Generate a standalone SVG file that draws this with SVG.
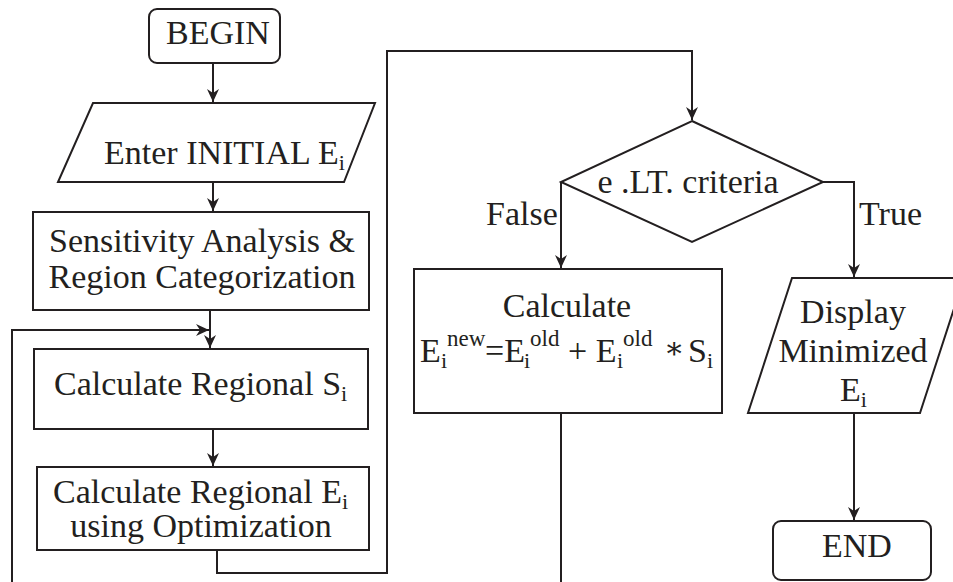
<svg xmlns="http://www.w3.org/2000/svg" width="953" height="582" viewBox="0 0 953 582">
<defs>
<style>
.s{fill:#fff;stroke:#231f20;stroke-width:2}
.c{fill:none;stroke:#231f20;stroke-width:2}
text{font-family:"Liberation Serif","Times New Roman",serif;font-size:34px;fill:#231f20}
.m{text-anchor:middle}
.sb{font-size:22px}
.sp{font-size:23px}
</style>
<marker id="ah" viewBox="-14 -7 15 14" refX="0" refY="0" markerWidth="15" markerHeight="14" markerUnits="userSpaceOnUse" orient="auto">
<path d="M0,0 L-13,-6 L-9,0 L-13,6 Z" fill="#231f20"/>
</marker>
</defs>
<rect width="953" height="582" fill="#fff"/>
<g id="connectors">
<path class="c" d="M213,63 V102" marker-end="url(#ah)"/>
<path class="c" d="M213,182 V211" marker-end="url(#ah)"/>
<path class="c" d="M210,310 V348" marker-end="url(#ah)"/>
<path class="c" d="M12,582 V330 H209" marker-end="url(#ah)"/>
<path class="c" d="M213,429 V466" marker-end="url(#ah)"/>
<path class="c" d="M217,550 V573 H387 V51 H692 V120" marker-end="url(#ah)"/>
<path class="c" d="M561,182 V268" marker-end="url(#ah)"/>
<path class="c" d="M823,182 H854 V277" marker-end="url(#ah)"/>
<path class="c" d="M561,413 V582"/>
<path class="c" d="M854,413 V520" marker-end="url(#ah)"/>
</g>
<g id="begin">
<rect class="s" x="149" y="9" width="131" height="54" rx="8"/>
<text class="m" x="218" y="44">BEGIN</text>
</g>
<g id="enter">
<path class="s" d="M93,103 H375 L344,182 H58 Z"/>
<text x="104" y="164">Enter INITIAL E<tspan class="sb" dy="6">i</tspan></text>
</g>
<g id="sensitivity">
<rect class="s" x="33" y="212" width="336" height="98"/>
<text class="m" x="202" y="252">Sensitivity Analysis &amp;</text>
<text class="m" x="202" y="288">Region Categorization</text>
</g>
<g id="calc-s">
<rect class="s" x="34" y="349" width="334" height="80"/>
<text x="54" y="395">Calculate Regional S<tspan class="sb" dy="6">i</tspan></text>
</g>
<g id="calc-e">
<rect class="s" x="37" y="467" width="332" height="83"/>
<text x="53" y="503">Calculate Regional E<tspan class="sb" dy="6">i</tspan></text>
<text class="m" x="201" y="537">using Optimization</text>
</g>
<g id="decision">
<path class="s" d="M692,121 L823,182 L692,242 L561,182 Z"/>
<text class="m" x="688" y="193">e .LT. criteria</text>
</g>
<g id="labels">
<text x="486" y="225">False</text>
<text x="859" y="225">True</text>
</g>
<g id="update">
<rect class="s" x="414" y="269" width="308" height="144"/>
<text class="m" x="567" y="317">Calculate</text>
<text x="420" y="362">E</text>
<text class="sb" x="441" y="368">i</text>
<text class="sp" x="447" y="346">new</text>
<text x="485" y="362">=E</text>
<text class="sb" x="524" y="368">i</text>
<text class="sp" x="530" y="346">old</text>
<text x="568" y="362">+ E</text>
<text class="sb" x="617" y="368">i</text>
<text class="sp" x="623" y="346">old</text>
<text style="font-family:'DejaVu Serif','Liberation Serif',serif;font-size:30px" x="664" y="358">∗</text>
<text x="688" y="362">S</text>
<text class="sb" x="707" y="368">i</text>
</g>
<g id="display">
<path class="s" d="M792,278 H964 L920,413 H748 Z"/>
<text class="m" x="853" y="323">Display</text>
<text class="m" x="853" y="362">Minimized</text>
<text x="840" y="401">E<tspan class="sb" dy="6">i</tspan></text>
</g>
<g id="end">
<rect class="s" x="773" y="521" width="158" height="59" rx="8"/>
<text class="m" x="857" y="557">END</text>
</g>
</svg>
